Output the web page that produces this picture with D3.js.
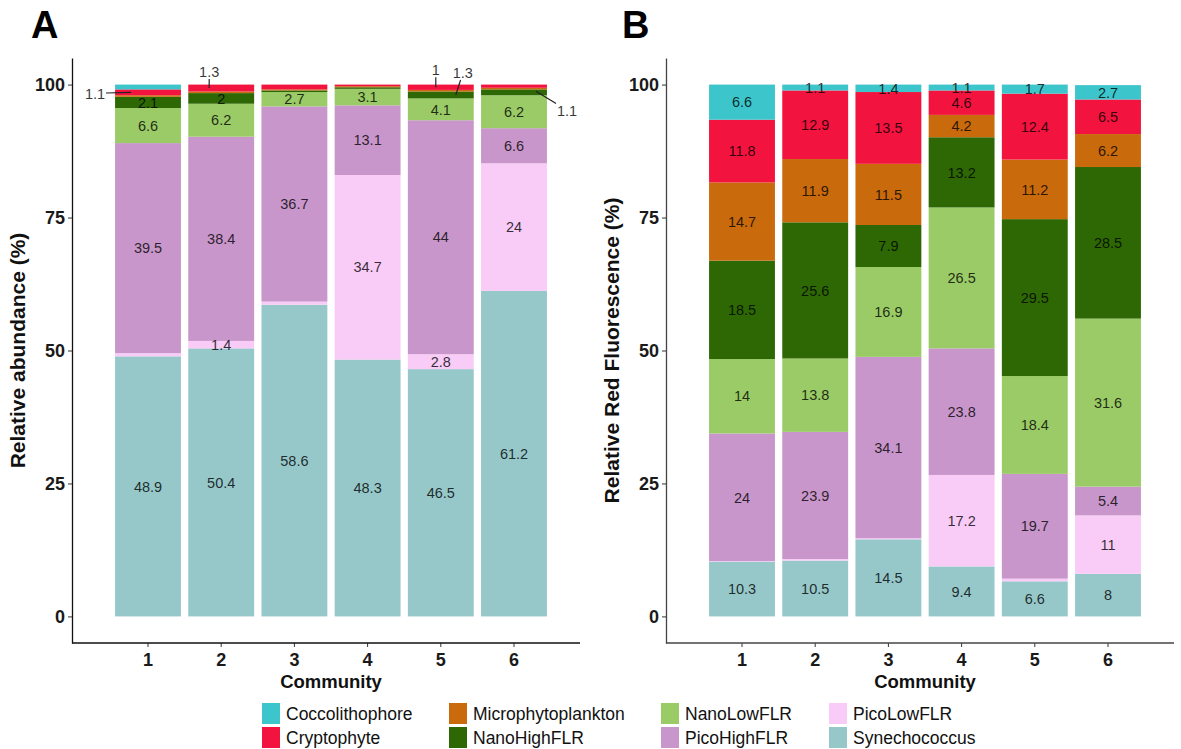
<!DOCTYPE html>
<html>
<head>
<meta charset="utf-8">
<script src="https://cdn.jsdelivr.net/npm/d3@7"></script>
<style>
  body { margin: 0; background: #fff; }
  svg { display: block; font-family: "Liberation Sans", Arial, sans-serif; }
</style>
</head>
<body>
<svg id="chart" width="1181" height="749"></svg>
<script>
// ---------- data ----------
const communities = ["1", "2", "3", "4", "5", "6"];
const groups = ["Coccolithophore", "Cryptophyte", "Microphytoplankton", "NanoHighFLR",
                "NanoLowFLR", "PicoHighFLR", "PicoLowFLR", "Synechococcus"];
const groupColors = ["#3cc6cc", "#f3133f", "#c96a0c", "#2e6804",
                     "#9acb66", "#c896ca", "#f9ccf7", "#96c8ca"];
const yTicks = [0, 25, 50, 75, 100];

// Panel A: relative abundance (%)
const abundCoccolithophore    = [0.9, 0, 0, 0, 0, 0];
const abundCryptophyte        = [1.1, 1.3, 0.9, 0.3, 1, 0.6];
const abundMicrophytoplankton = [0.3, 0.3, 0.2, 0.2, 0.3, 0.3];
const abundNanoHighFLR        = [2.1, 2, 0.3, 0.3, 1.3, 1.1];
const abundNanoLowFLR         = [6.6, 6.2, 2.7, 3.1, 4.1, 6.2];
const abundPicoHighFLR        = [39.5, 38.4, 36.7, 13.1, 44, 6.6];
const abundPicoLowFLR         = [0.6, 1.4, 0.6, 34.7, 2.8, 24];
const abundSynechococcus      = [48.9, 50.4, 58.6, 48.3, 46.5, 61.2];

// Panel B: relative red fluorescence (%)
const fluorCoccolithophore    = [6.6, 1.1, 1.4, 1.1, 1.7, 2.7];
const fluorCryptophyte        = [11.8, 12.9, 13.5, 4.6, 12.4, 6.5];
const fluorMicrophytoplankton = [14.7, 11.9, 11.5, 4.2, 11.2, 6.2];
const fluorNanoHighFLR        = [18.5, 25.6, 7.9, 13.2, 29.5, 28.5];
const fluorNanoLowFLR         = [14, 13.8, 16.9, 26.5, 18.4, 31.6];
const fluorPicoHighFLR        = [24, 23.9, 34.1, 23.8, 19.7, 5.4];
const fluorPicoLowFLR         = [0.1, 0.3, 0.2, 17.2, 0.5, 11];
const fluorSynechococcus      = [10.3, 10.5, 14.5, 9.4, 6.6, 8];

// repelled labels in panel A (community, group)
const repelCommunity = ["1", "2", "5", "5", "6"];
const repelGroup     = ["Cryptophyte", "Cryptophyte", "Cryptophyte", "NanoHighFLR", "NanoHighFLR"];

// ---------- layout / style ----------
const repelStyle = [   // label offset and segment end offset (px) relative to segment centre
  { dx: -53, dy: 1,   ex: -17, ey: 0 },
  { dx: -12, dy: -16, ex: -12, ey: 0 },
  { dx: -5,  dy: -17, ex: -5,  ey: 0 },
  { dx: 22,  dy: -22, ex: 15,  ey: 0 },
  { dx: 53,  dy: 18,  ex: 22,  ey: -1 }
];

const svg = d3.select("#chart");
svg.append("rect").attr("width", 1181).attr("height", 749).attr("fill", "#fff");

const color = d3.scaleOrdinal(groups, groupColors);
const stackKeys = groups.slice().reverse(); // Synechococcus at the bottom

const y = d3.scaleLinear().domain([-5, 105]).range([643, 58]);

function buildRows(prefix) {
  const A = prefix === "A";
  const src = {
    Coccolithophore: A ? abundCoccolithophore : fluorCoccolithophore,
    Cryptophyte: A ? abundCryptophyte : fluorCryptophyte,
    Microphytoplankton: A ? abundMicrophytoplankton : fluorMicrophytoplankton,
    NanoHighFLR: A ? abundNanoHighFLR : fluorNanoHighFLR,
    NanoLowFLR: A ? abundNanoLowFLR : fluorNanoLowFLR,
    PicoHighFLR: A ? abundPicoHighFLR : fluorPicoHighFLR,
    PicoLowFLR: A ? abundPicoLowFLR : fluorPicoLowFLR,
    Synechococcus: A ? abundSynechococcus : fluorSynechococcus
  };
  return communities.map((c, i) => {
    const row = { community: c };
    groups.forEach(g => { row[g] = src[g][i]; });
    return row;
  });
}

function drawPanel(cfg) {
  const x0 = cfg.x0, axisLen = 508;
  const step = 73.2;
  const x = d3.scaleBand().domain(communities)
    .range([x0 + 76 - step / 2, x0 + 76 + 5 * step + step / 2])
    .paddingInner(0.1).paddingOuter(0.05);

  const rows = buildRows(cfg.key);
  const series = d3.stack().keys(stackKeys)(rows);

  const g = svg.append("g");

  // bars
  const layers = g.append("g").selectAll("g").data(series).join("g")
    .attr("fill", d => color(d.key));
  layers.selectAll("rect").data(d => d).join("rect")
    .attr("x", d => x(d.data.community))
    .attr("width", x.bandwidth())
    .attr("y", d => y(d[1]))
    .attr("height", d => Math.max(0, y(d[0]) - y(d[1])));

  // labels
  const labels = [];
  series.forEach(s => s.forEach(d => {
    const v = d[1] - d[0];
    if (v >= 1) labels.push({ key: s.key, community: d.data.community, v: +v.toFixed(1),
      cx: x(d.data.community) + x.bandwidth() / 2, cy: y((d[0] + d[1]) / 2) });
  }));
  const lab = g.append("g");
  labels.forEach(l => {
    let tx = l.cx, ty = l.cy;
    let ri = -1;
    if (cfg.key === "A") {
      repelCommunity.forEach((c, i) => { if (c === l.community && repelGroup[i] === l.key) ri = i; });
    }
    if (ri >= 0) {
      const st = repelStyle[ri];
      tx = l.cx + st.dx; ty = l.cy + st.dy;
      const exx = l.cx + st.ex, eyy = l.cy + st.ey;
      const hw = 11, hh = 7;
      const ddx = exx - tx, ddy = eyy - ty;
      const t = Math.min(Math.abs(ddx) > 0 ? hw / Math.abs(ddx) : Infinity,
                         Math.abs(ddy) > 0 ? hh / Math.abs(ddy) : Infinity);
      lab.append("line")
        .attr("x1", tx + ddx * t).attr("y1", ty + ddy * t)
        .attr("x2", exx).attr("y2", eyy)
        .attr("stroke", "#222").attr("stroke-width", 1.2);
    }
    lab.append("text")
      .attr("x", tx).attr("y", ty).attr("dy", "0.36em")
      .attr("text-anchor", "middle")
      .attr("font-size", 14.5)
      .attr("fill", "#000").attr("fill-opacity", 0.8)
      .text(l.v);
  });

  // y axis
  const ya = g.append("g").attr("transform", `translate(${x0},0)`)
    .call(d3.axisLeft(y).tickValues(yTicks).tickSize(4).tickSizeOuter(0).tickPadding(3));
  ya.select(".domain").attr("stroke", cfg.axisColor).attr("stroke-width", 1.3);
  ya.selectAll(".tick line").attr("stroke", "#333");
  ya.selectAll(".tick text").attr("font-size", 18).attr("font-weight", "bold").attr("fill", "#1a1a1a")
    .attr("font-family", "Liberation Sans, Arial, sans-serif");

  // x axis
  const xa = g.append("g").attr("transform", `translate(0,${y(-5)})`)
    .call(d3.axisBottom(x).tickSize(4).tickSizeOuter(0).tickPadding(6));
  xa.select(".domain").remove();
  xa.append("line").attr("x1", x0).attr("x2", x0 + axisLen).attr("y1", 0).attr("y2", 0)
    .attr("stroke", cfg.axisColor).attr("stroke-width", 1.3);
  xa.selectAll(".tick line").attr("stroke", "#333");
  xa.selectAll(".tick text").attr("font-size", 18).attr("font-weight", "bold").attr("fill", "#1a1a1a")
    .attr("font-family", "Liberation Sans, Arial, sans-serif");

  // axis titles
  g.append("text").attr("x", x0 + 76 + 2.5 * step).attr("y", 688)
    .attr("text-anchor", "middle").attr("font-size", 18.5).attr("font-weight", "bold")
    .attr("fill", "#111").text("Community");
  g.append("text")
    .attr("transform", `translate(${cfg.titleX},${(y(-5) + y(105)) / 2}) rotate(-90)`)
    .attr("text-anchor", "middle").attr("font-size", 21).attr("font-weight", "bold")
    .attr("fill", "#111").text(cfg.yTitle);

  // panel letter
  g.append("text").attr("x", cfg.letterX).attr("y", 38)
    .attr("font-size", 38).attr("font-weight", "bold").attr("fill", "#000")
    .text(cfg.key);
}

drawPanel({ key: "A", x0: 72, titleX: 25, letterX: 31, yTitle: "Relative abundance (%)", axisColor: "#111" });
drawPanel({ key: "B", x0: 666, titleX: 619, letterX: 622, yTitle: "Relative Red Fluorescence (%)", axisColor: "#444" });

// legend (2 rows, column-major)
const legendX = [262, 449, 661, 829];
const legendY = [703, 727];
const leg = svg.append("g");
groups.forEach((gname, i) => {
  const col = Math.floor(i / 2), row = i % 2;
  const item = leg.append("g").attr("transform", `translate(${legendX[col]},${legendY[row]})`);
  item.append("rect").attr("width", 18).attr("height", 21).attr("fill", color(gname));
  item.append("text").attr("x", 24).attr("y", 11).attr("dy", "0.36em")
    .attr("font-size", 17.5).attr("fill", "#111").text(gname);
});
</script>
</body>
</html>
